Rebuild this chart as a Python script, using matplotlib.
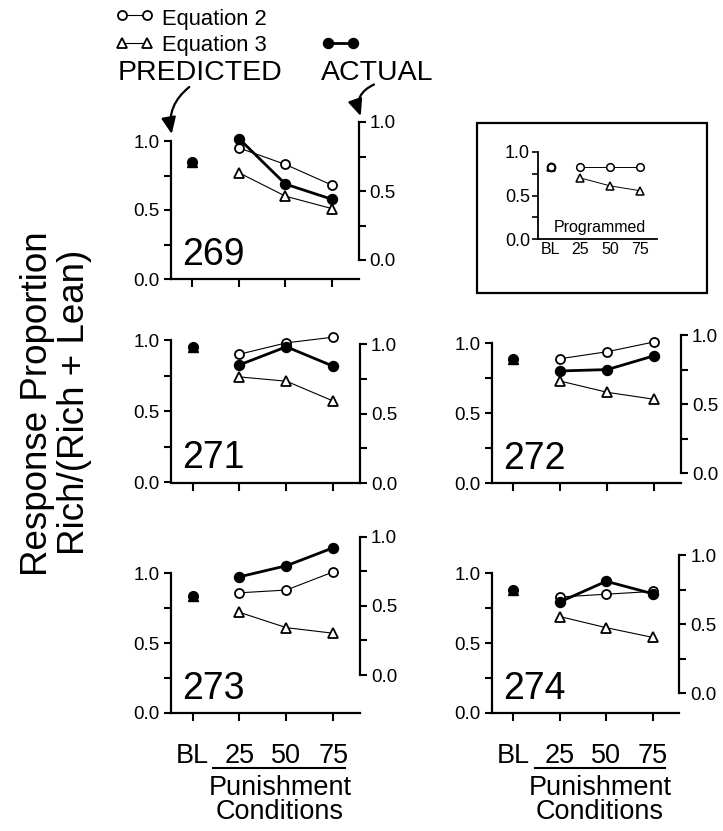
import matplotlib
matplotlib.use("Agg")
import matplotlib.pyplot as plt
from matplotlib.patches import Rectangle

plt.rcParams["font.family"] = ["Liberation Sans", "DejaVu Sans"]

# data
conds = ["BL", "25", "50", "75"]
subjects = ["269", "271", "272", "273", "274"]

baseline = {"269": 0.85, "271": 0.95, "272": 0.89, "273": 0.84, "274": 0.88}
eq2 = {"269": [0.95, 0.83, 0.68],
       "271": [0.90, 0.98, 1.02],
       "272": [0.89, 0.94, 1.01],
       "273": [0.86, 0.88, 1.01],
       "274": [0.83, 0.85, 0.87]}
eq3 = {"269": [0.77, 0.60, 0.51],
       "271": [0.74, 0.71, 0.57],
       "272": [0.73, 0.65, 0.60],
       "273": [0.72, 0.61, 0.57],
       "274": [0.69, 0.61, 0.54]}
actual = {"269": [0.88, 0.55, 0.44],
          "271": [0.85, 0.98, 0.84],
          "272": [0.74, 0.75, 0.85],
          "273": [0.71, 0.79, 0.92],
          "274": [0.66, 0.81, 0.72]}

prog_bl = 0.82
prog_eq2 = [0.82, 0.82, 0.82]
prog_eq3 = [0.70, 0.61, 0.555]

# layout in pixels: left spine, right spine, left 0, left 1, right 0, right 1
W, H = 723, 831
layout = {"269": (171, 358.5, 279, 141, 260, 122),
          "271": (171, 360, 482, 340, 483, 344),
          "272": (491.7, 681, 483.3, 343.3, 473.3, 335),
          "273": (171, 360, 712.7, 573.3, 675, 536.7),
          "274": (491.7, 679.3, 712.7, 573.3, 693.3, 555)}
bottom_row = ["273", "274"]

fig = plt.figure(figsize=(W / 100, H / 100), dpi=100)


def box(l, r, b, t):
    return [l / W, 1 - b / H, (r - l) / W, (b - t) / H]


ticks = [0, 0.25, 0.5, 0.75, 1.0]
ticklabels = ["0.0", "", "0.5", "", "1.0"]
xs = list(range(len(conds)))

for key in subjects:
    l, r, y0, y1, r0, r1 = layout[key]
    B = max(y0, r0)
    T = min(y1, r1) - 5
    ax = fig.add_axes(box(l, r, B, T))
    sl = y0 - y1
    lo = -(B - y0) / sl
    ax.set_ylim(lo, lo + (B - T) / sl)
    ax.set_xlim(-0.46, 3.57)

    ax2 = ax.twinx()
    sr = r0 - r1
    lo2 = -(B - r0) / sr
    ax2.set_ylim(lo2, lo2 + (B - T) / sr)

    for s in ["top", "right"]:
        ax.spines[s].set_visible(False)
    for s in ["top", "left", "bottom"]:
        ax2.spines[s].set_visible(False)
    ax.spines["left"].set_bounds(0, 1)
    ax2.spines["right"].set_bounds(0, 1)
    for sp in [ax.spines["left"], ax.spines["bottom"], ax2.spines["right"]]:
        sp.set_linewidth(1.6)

    ax.set_yticks(ticks)
    ax.set_yticklabels(ticklabels)
    ax2.set_yticks(ticks)
    ax2.set_yticklabels(ticklabels)
    ax.tick_params(axis="y", length=5, width=1.5, labelsize=13.5, pad=3)
    ax2.tick_params(axis="y", length=5, width=1.5, labelsize=13.5, pad=3)

    ax.set_xticks(xs)
    if key in bottom_row:
        ax.set_xticklabels(conds, fontsize=19.5)
    else:
        ax.set_xticklabels([])
    ax.tick_params(axis="x", length=6, width=1.5, pad=16)

    # predicted, on the left axis
    ax.plot(xs[1:], eq2[key], "o-", color="k", mfc="white", mec="k",
            lw=0.8, ms=6.5, mew=1.3, clip_on=False)
    ax.plot(xs[1:], eq3[key], "^-", color="k", mfc="white", mec="k",
            lw=0.8, ms=7, mew=1.3, clip_on=False)
    ax.plot([0], [baseline[key]], "^", color="k", ms=7, clip_on=False)
    ax.plot([0], [baseline[key]], "o", color="k", ms=7, clip_on=False)

    # actual, on the right axis
    ax2.plot(xs[1:], actual[key], "o-", color="k", lw=2, ms=7.2,
             clip_on=False)

    ax.text(-0.22, 0.1, key, fontsize=27, ha="left", va="baseline")

# inset with programmed values
ins = fig.add_axes(box(538.3, 656.7, 239.3, 148))
ins.set_ylim(0, (239.3 - 148) / 87.6)
ins.set_xlim(-0.42, 3.57)
ins.spines["top"].set_visible(False)
ins.spines["right"].set_visible(False)
ins.spines["left"].set_bounds(0, 1)
ins.spines["left"].set_linewidth(1.3)
ins.spines["bottom"].set_linewidth(1.3)
ins.set_yticks(ticks)
ins.set_yticklabels(ticklabels)
ins.tick_params(axis="y", length=4, width=1.2, labelsize=13, pad=2)
ins.set_xticks(xs)
ins.set_xticklabels(conds, fontsize=11.5)
ins.tick_params(axis="x", length=0, pad=2)
ins.plot(xs[1:], prog_eq2, "o-", color="k", mfc="white", mec="k",
         lw=0.7, ms=5.5, mew=1.1, clip_on=False)
ins.plot(xs[1:], prog_eq3, "^-", color="k", mfc="white", mec="k",
         lw=0.7, ms=5.5, mew=1.1, clip_on=False)
ins.plot([0], [prog_bl], "^", mfc="white", mec="k", ms=5.5, mew=1.1)
ins.plot([0], [prog_bl], "o", mfc="white", mec="k", ms=5.5, mew=1.5)
ins.text(1.66, 0.13, "Programmed", fontsize=11.5, ha="center", va="center")

# overlay in pixel units for legend, arrows and labels
ov = fig.add_axes([0, 0, 1, 1])
ov.set_xlim(0, W)
ov.set_ylim(H, 0)
ov.axis("off")
ov.patch.set_visible(False)

ov.add_patch(Rectangle((477, 123), 230, 170, fill=False, lw=1.6, ec="k"))

ov.plot([121.7, 146.7], [15, 15], "o-", color="k", mfc="white", mec="k",
        lw=0.8, ms=6.5, mew=1.3)
ov.text(161.7, 24.5, "Equation 2", fontsize=15.8, va="baseline")
ov.plot([121.7, 146.7], [43.3, 43.3], "^-", color="k", mfc="white", mec="k",
        lw=0.8, ms=7, mew=1.3)
ov.text(161.7, 50.5, "Equation 3", fontsize=15.8, va="baseline")
ov.plot([328, 353], [43, 43], "o-", color="k", lw=2, ms=7.2)
ov.text(118, 80, "PREDICTED", fontsize=20.5, va="baseline")
ov.text(321, 80, "ACTUAL", fontsize=20.5, va="baseline")

arrow = dict(arrowstyle="-|>,head_length=0.5,head_width=0.22",
             lw=1.6, color="k", mutation_scale=20, shrinkA=0, shrinkB=0)
ov.annotate("", xy=(171.7, 134), xytext=(189.3, 87),
            arrowprops=dict(arrow, connectionstyle="arc3,rad=0.3"))
ov.annotate("", xy=(360.7, 116), xytext=(374, 84.5),
            arrowprops=dict(arrow, connectionstyle="arc3,rad=0.45"))

# y label
ov.text(38, 404, "Response Proportion", rotation=90, fontsize=26.5,
        ha="center", va="center")
ov.text(75, 402, "Rich/(Rich + Lean)", rotation=90, fontsize=26.5,
        ha="center", va="center")

# x labels under the bottom panels
for x0, x1, xc in [(213.3, 345, 280), (535, 665, 600)]:
    ov.plot([x0, x1], [768.3, 768.3], color="k", lw=1.5)
    ov.text(xc, 800, "Punishment\nConditions", fontsize=19.5, ha="center",
            va="center", multialignment="center", linespacing=0.9)

fig.savefig("out.png", dpi=100)
